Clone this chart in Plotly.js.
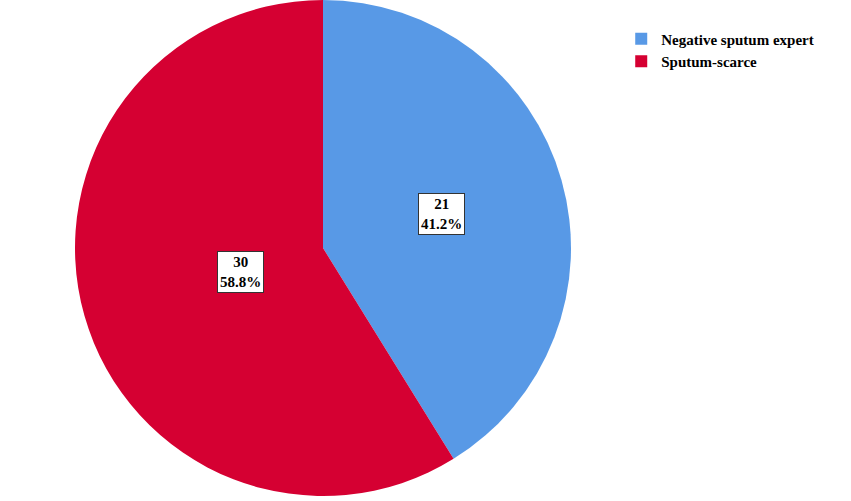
<!DOCTYPE html>
<html>
<head>
<meta charset="utf-8">
<script src="https://cdn.plot.ly/plotly-3.0.1.min.js"></script>
<style>
  html, body { margin: 0; padding: 0; background: #ffffff; }
  #chart { width: 851px; height: 501px; }
</style>
</head>
<body>
<div id="chart"></div>
<script>
// Sputum groups and patient counts
const categories = ["Negative sputum expert", "Sputum-scarce"];
const counts = [21, 30];
const colors = ["#5899E6", "#D50032"];

const W = 851, H = 501;
const pieDomain = { x: [0.0881, 0.6710], y: [0.01, 1.0] };
const font = "Liberation Serif";

const total = counts.reduce((a, b) => a + b, 0);

// Boxed count / percent labels placed at each slice's centroid
const radiusPx = Math.min((pieDomain.x[1] - pieDomain.x[0]) * W,
                          (pieDomain.y[1] - pieDomain.y[0]) * H) / 2;
const cx = (pieDomain.x[0] + pieDomain.x[1]) / 2;
const cy = (pieDomain.y[0] + pieDomain.y[1]) / 2;
let start = 0;
const annotations = counts.map((v) => {
  const frac = v / total;
  const half = frac * Math.PI;
  const mid = (start + frac / 2) * 2 * Math.PI;
  start += frac;
  const r = (2 * radiusPx * Math.sin(half)) / (3 * half);
  return {
    xref: "paper", yref: "paper",
    x: cx + (r * Math.sin(mid)) / W,
    y: cy + (r * Math.cos(mid)) / H,
    xanchor: "center", yanchor: "middle",
    showarrow: false,
    text: "<b>" + v + "</b><br><b>" + (frac * 100).toFixed(1) + "%</b>",
    font: { family: font, size: 15, color: "#000000" },
    bgcolor: "#ffffff",
    bordercolor: "#333333",
    borderwidth: 1,
    borderpad: 2
  };
});

const trace = {
  type: "pie",
  labels: categories,
  values: counts,
  marker: { colors: colors, line: { width: 0 } },
  sort: false,
  direction: "clockwise",
  rotation: 0,
  textinfo: "none",
  hoverinfo: "label+value+percent",
  domain: pieDomain
};

const layout = {
  width: W, height: H,
  margin: { l: 0, r: 0, t: 0, b: 0 },
  paper_bgcolor: "#ffffff",
  showlegend: true,
  legend: {
    x: 0.73, y: 0.955, xanchor: "left", yanchor: "top",
    font: { family: font, size: 15, color: "#000000", weight: "bold" },
    itemwidth: 30,
    tracegroupgap: 0,
    bgcolor: "rgba(0,0,0,0)"
  },
  annotations: annotations
};

Plotly.newPlot("chart", [trace], layout, { displayModeBar: false, staticPlot: true });
</script>
</body>
</html>
